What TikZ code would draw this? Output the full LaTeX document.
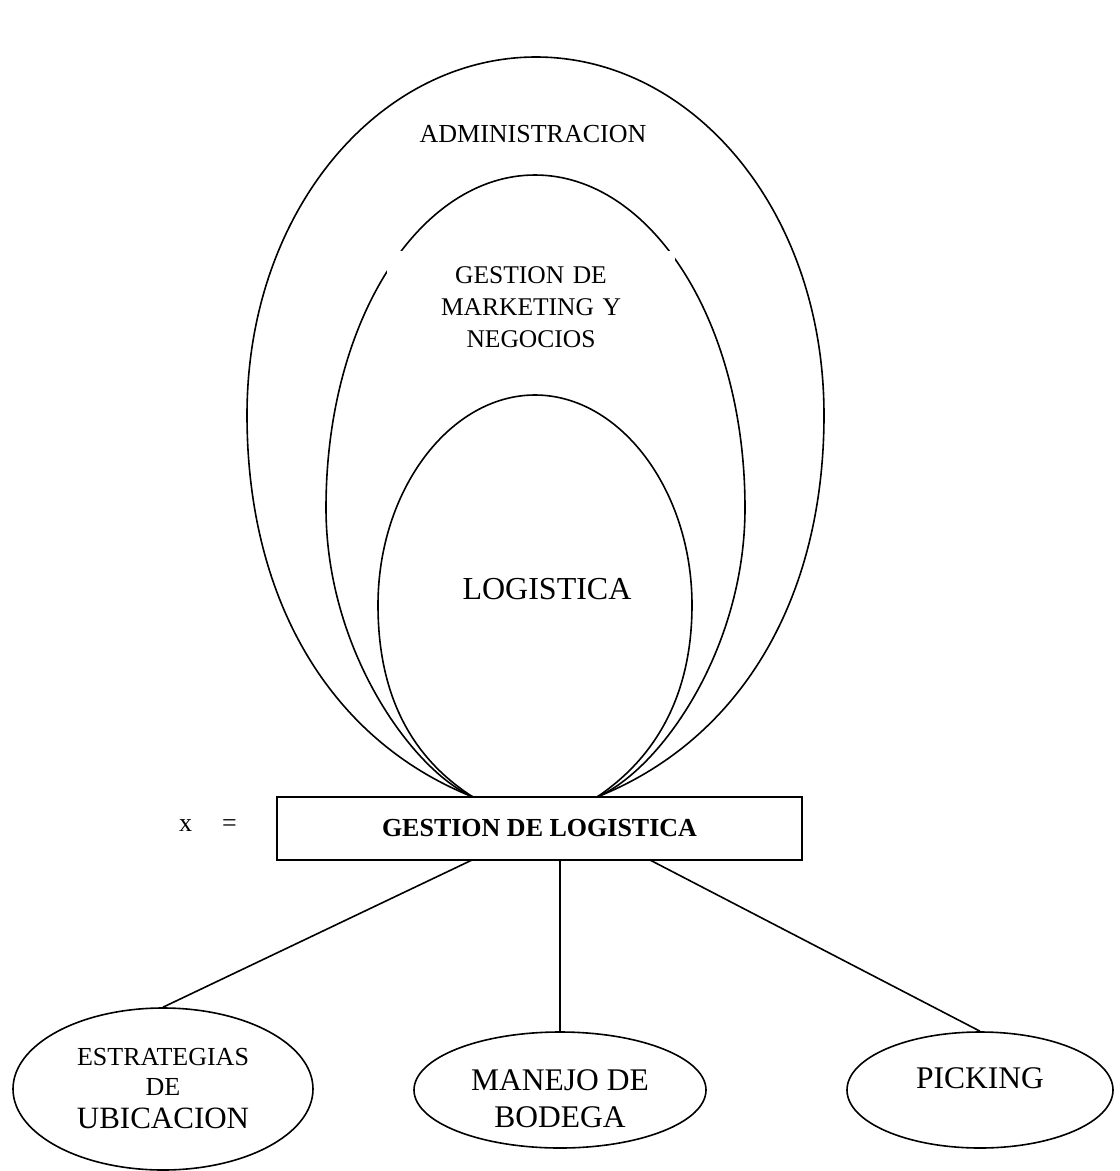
\documentclass[tikz,border=0pt]{standalone}
\usepackage{fontspec}
\setmainfont{Liberation Serif}
\usetikzlibrary{shapes.geometric}

\begin{document}
\begin{tikzpicture}[x=1pt,y=-1pt,line width=1.6pt,inner sep=0pt,
    every node/.style={align=center,font=\fontsize{26}{30}\selectfont},
    big/.style={font=\fontsize{31.5}{37}\selectfont},
    tema/.style={draw,ellipse,minimum width=292pt,minimum height=116pt}]
    \useasboundingbox (0,0) rectangle (1120,1171);
    % los tres campos
    \draw (473,797) .. controls (330,740) and (247,600) .. (247,415)
        .. controls (247,210) and (380,57) .. (536,57)
        .. controls (692,57) and (824,210) .. (824,415)
        .. controls (824,600) and (740,740) .. (597,797);
    \draw (473,797) .. controls (412,770) and (326,650) .. (326,508)
        .. controls (326,320) and (420,175) .. (535,175)
        .. controls (650,175) and (745,320) .. (745,508)
        .. controls (745,650) and (660,770) .. (597,797);
    \node[fill=white,text width=288pt,inner ysep=15pt,font=\fontsize{25.5}{32}\selectfont] (mkt) at (531,307) {GESTION DE\\MARKETING Y\\NEGOCIOS};
    \draw (473,797) .. controls (415,760) and (378,700) .. (378,605)
        .. controls (378,490) and (450,395) .. (535,395)
        .. controls (620,395) and (692,490) .. (692,605)
        .. controls (692,700) and (652,760) .. (597,797);
    \node (adm) at (533,134) {ADMINISTRACION};
    \node[font=\fontsize{32}{36}\selectfont] (log) at (547,589) {LOGISTICA};
    % objeto de estudio
    \node[draw,minimum width=525pt,minimum height=63pt,font=\fontsize{26}{30}\selectfont\bfseries] (gl) at (539.5,828.5) {GESTION DE LOGISTICA};
    \node (x) at (208,826) {x\hspace{30pt}=};
    \coordinate (g1) at (472,860);
    \coordinate (g2) at (560,860);
    \coordinate (g3) at (650,860);
    % areas
    \node[tema,minimum width=300pt,minimum height=162pt] (ubic) at (163,1089) {ESTRATEGIAS\\DE\\[3pt]{\fontsize{31}{34}\selectfont UBICACION}};
    \node[tema,big] (bod) at (560,1090) {\rule{0pt}{38pt}MANEJO DE\\BODEGA};
    \node[tema,big,minimum width=266pt,text depth=24pt] (pick) at (980,1090) {PICKING};
    \path (g1) edge (ubic.north)
          (g2) edge (bod.north)
          (g3) edge (pick.north);
\end{tikzpicture}
\end{document}
